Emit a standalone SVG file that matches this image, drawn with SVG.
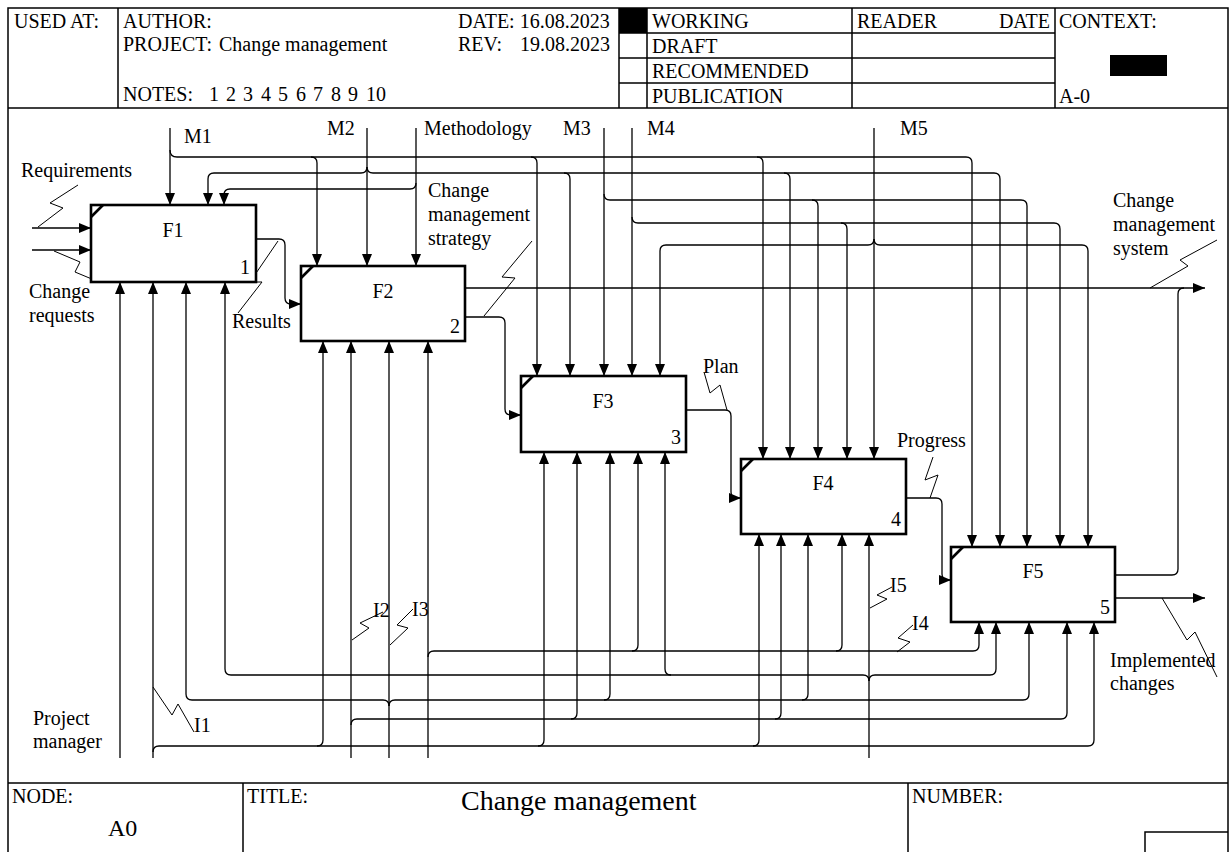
<svg xmlns="http://www.w3.org/2000/svg" width="1230" height="852" viewBox="0 0 1230 852">
<style>
text{font-family:"Liberation Serif","Times New Roman",serif;font-size:20px;fill:#000}
.fr{stroke:#000;stroke-width:1.5;fill:none}
.box{fill:#fff;stroke:#000;stroke-width:2.6}
.tick{stroke:#000;stroke-width:2.6}
.c{fill:none;stroke:#000;stroke-width:1.3}
.a{marker-end:url(#ah)}
.sq{fill:none;stroke:#000;stroke-width:1}
.num{text-anchor:end}
.lbl{text-anchor:middle}
</style>
<defs>
<marker id="ah" markerWidth="12" markerHeight="10" refX="12" refY="5" orient="auto" markerUnits="userSpaceOnUse"><path d="M0,0 L12,5 L0,10 z" fill="#000"/></marker>
</defs>
<rect x="0" y="0" width="1230" height="852" fill="#fff"/>
<g id="frame">
<path class="fr" d="M8,852 V8 H1228 V852 M8,108 H1228 M118,8 V108 M619,8 V108 M647,8 V108 M852,8 V108 M1055,8 V108 M619,33 H1055 M619,58 H1055 M619,83 H1055 M8,783 H1228 M243,783 V852 M908,783 V852 M1145,852 V832 H1228"/>
<rect x="619" y="8" width="28" height="25" fill="#000"/>
<rect x="1110" y="55" width="57" height="21" fill="#000"/>
<text x="14" y="28">USED AT:</text>
<text x="123" y="28">AUTHOR:</text>
<text x="123" y="51">PROJECT:</text>
<text x="219" y="51">Change management</text>
<text x="123" y="101">NOTES:</text>
<text x="209" y="101">1</text><text x="226" y="101">2</text><text x="243" y="101">3</text><text x="261" y="101">4</text><text x="278" y="101">5</text><text x="296" y="101">6</text><text x="313" y="101">7</text><text x="331" y="101">8</text><text x="348" y="101">9</text><text x="366" y="101">10</text>
<text x="458" y="28">DATE: 16.08.2023</text>
<text x="458" y="51">REV:</text>
<text x="520" y="51">19.08.2023</text>
<text x="652" y="28">WORKING</text>
<text x="652" y="53">DRAFT</text>
<text x="652" y="78">RECOMMENDED</text>
<text x="652" y="103">PUBLICATION</text>
<text x="857" y="28">READER</text>
<text x="1050" y="28" text-anchor="end">DATE</text>
<text x="1059" y="28">CONTEXT:</text>
<text x="1059" y="103">A-0</text>
<text x="12" y="803">NODE:</text>
<text x="108" y="836" style="font-size:24px">A0</text>
<text x="247" y="803">TITLE:</text>
<text x="461" y="810" style="font-size:28px">Change management</text>
<text x="912" y="803">NUMBER:</text>
</g>
<g id="connectors">
<path class="c a" d="M170,128 V205"/>
<path class="c a" d="M170,150 Q170,157 177,157 H966 Q972,157 972,163 V547"/>
<path class="c a" d="M311,157 Q317,157 317,163 V266"/>
<path class="c a" d="M531,157 Q537,157 537,163 V376"/>
<path class="c a" d="M757,157 Q763,157 763,163 V459"/>
<path class="c a" d="M367,128 V266"/>
<path class="c a" d="M367,167 Q367,173 361,173 H214 Q208,173 208,179 V205"/>
<path class="c a" d="M367,167 Q367,173 373,173 H994 Q1000,173 1000,179 V547"/>
<path class="c a" d="M564,173 Q570,173 570,179 V376"/>
<path class="c a" d="M784,173 Q790,173 790,179 V459"/>
<path class="c a" d="M416,128 V266"/>
<path class="c a" d="M416,183 Q416,189 410,189 H230 Q224,189 224,195 V205"/>
<path class="c a" d="M604,128 V376"/>
<path class="c a" d="M604,194 Q604,200 610,200 H1021 Q1027,200 1027,206 V547"/>
<path class="c a" d="M812,200 Q818,200 818,206 V459"/>
<path class="c a" d="M632,128 V376"/>
<path class="c a" d="M632,217 Q632,223 638,223 H1054 Q1060,223 1060,229 V547"/>
<path class="c a" d="M841,223 Q847,223 847,229 V459"/>
<path class="c a" d="M874,128 V459"/>
<path class="c a" d="M874,239 Q874,245 868,245 H666 Q660,245 660,251 V376"/>
<path class="c a" d="M874,239 Q874,245 880,245 H1082 Q1088,245 1088,251 V547"/>
<path class="c a" d="M32,228 H91"/>
<path class="c a" d="M32,250 H91"/>
<path class="c a" d="M256,239 H279 Q285,239 285,245 V298 Q285,304 291,304 H301"/>
<path class="c a" d="M465,288 H1205"/>
<path class="c a" d="M465,317 H499 Q505,317 505,323 V409 Q505,415 511,415 H521"/>
<path class="c a" d="M686,410 H725 Q731,410 731,416 V492 Q731,498 737,498 H741"/>
<path class="c a" d="M906,498 H936 Q942,498 942,504 V574 Q942,580 948,580 H951"/>
<path class="c" d="M1115,575 H1172 Q1178,575 1178,569 V294 Q1178,288 1184,288"/>
<path class="c a" d="M1115,598 H1205"/>
<path class="c a" d="M120,758 V282"/>
<path class="c a" d="M153,758 V282"/>
<path class="c a" d="M153,752 Q153,746 159,746 H1088 Q1094,746 1094,740 V622"/>
<path class="c a" d="M317,746 Q323,746 323,740 V341"/>
<path class="c a" d="M538,746 Q544,746 544,740 V452"/>
<path class="c a" d="M753,746 Q759,746 759,740 V534"/>
<path class="c a" d="M351,758 V341"/>
<path class="c a" d="M351,725 Q351,719 357,719 H1061 Q1067,719 1067,713 V622"/>
<path class="c a" d="M571,719 Q577,719 577,713 V452"/>
<path class="c a" d="M775,719 Q781,719 781,713 V534"/>
<path class="c a" d="M389,758 V341"/>
<path class="c a" d="M389,706 Q389,700 383,700 H192 Q186,700 186,694 V282"/>
<path class="c a" d="M389,706 Q389,700 395,700 H1023 Q1029,700 1029,694 V622"/>
<path class="c a" d="M604,700 Q610,700 610,694 V452"/>
<path class="c a" d="M802,700 Q808,700 808,694 V534"/>
<path class="c a" d="M428,758 V341"/>
<path class="c a" d="M428,657 Q428,651 434,651 H973 Q979,651 979,645 V622"/>
<path class="c a" d="M632,651 Q638,651 638,645 V452"/>
<path class="c a" d="M836,651 Q842,651 842,645 V534"/>
<path class="c a" d="M869,758 V534"/>
<path class="c a" d="M869,681 Q869,675 863,675 H231 Q225,675 225,669 V282"/>
<path class="c a" d="M671,675 Q665,675 665,669 V452"/>
<path class="c a" d="M869,681 Q869,675 875,675 H990 Q996,675 996,669 V622"/>
<polyline class="sq" points="78,185 50,203 63,208 38,227"/>
<polyline class="sq" points="54,251 80,262 75,272 99,282"/>
<polyline class="sq" points="278,241 250,282 262,282 238,313"/>
<polyline class="sq" points="532,241 502,277 515,278 484,316"/>
<polyline class="sq" points="1150,288 1188,266 1180,260 1217,240"/>
<polyline class="sq" points="704,372 710,393 720,385 727,410"/>
<polyline class="sq" points="933,457 925,480 938,475 930,498"/>
<polyline class="sq" points="1162,598 1187,640 1195,632 1217,677"/>
<polyline class="sq" points="153,687 172,715 178,704 194,732"/>
<polyline class="sq" points="352,640 369,628 360,623 383,612"/>
<polyline class="sq" points="390,645 408,628 397,625 413,609"/>
<polyline class="sq" points="897,652 910,642 898,638 913,625"/>
<polyline class="sq" points="870,608 887,599 877,595 892,587"/>
</g>
<g id="labels">
<text x="184" y="143">M1</text>
<text x="327" y="135">M2</text>
<text x="424" y="135">Methodology</text>
<text x="563" y="135">M3</text>
<text x="647" y="135">M4</text>
<text x="900" y="135">M5</text>
<text x="21" y="177">Requirements</text>
<text x="29" y="298">Change</text>
<text x="29" y="322">requests</text>
<text x="232" y="328">Results</text>
<text x="428" y="197">Change</text>
<text x="428" y="221">management</text>
<text x="428" y="245">strategy</text>
<text x="1113" y="207">Change</text>
<text x="1113" y="231">management</text>
<text x="1113" y="255">system</text>
<text x="703" y="373">Plan</text>
<text x="897" y="447">Progress</text>
<text x="1110" y="667">Implemented</text>
<text x="1110" y="690">changes</text>
<text x="33" y="725">Project</text>
<text x="33" y="748">manager</text>
<text x="194" y="732">I1</text>
<text x="373" y="617">I2</text>
<text x="412" y="616">I3</text>
<text x="912" y="630">I4</text>
<text x="890" y="592">I5</text>
</g>
<g id="F1"><rect class="box" x="91" y="205" width="165" height="77"/><line class="tick" x1="91" y1="217" x2="103" y2="205"/><text class="lbl" x="173" y="237">F1</text><text class="num" x="250" y="274">1</text></g>
<g id="F2"><rect class="box" x="301" y="266" width="164" height="75"/><line class="tick" x1="301" y1="278" x2="313" y2="266"/><text class="lbl" x="383" y="298">F2</text><text class="num" x="460" y="333">2</text></g>
<g id="F3"><rect class="box" x="521" y="376" width="165" height="76"/><line class="tick" x1="521" y1="388" x2="533" y2="376"/><text class="lbl" x="603" y="408">F3</text><text class="num" x="681" y="444">3</text></g>
<g id="F4"><rect class="box" x="741" y="459" width="165" height="75"/><line class="tick" x1="741" y1="471" x2="753" y2="459"/><text class="lbl" x="823" y="490">F4</text><text class="num" x="901" y="526">4</text></g>
<g id="F5"><rect class="box" x="951" y="547" width="164" height="75"/><line class="tick" x1="951" y1="559" x2="963" y2="547"/><text class="lbl" x="1033" y="578">F5</text><text class="num" x="1110" y="614">5</text></g>
</svg>
